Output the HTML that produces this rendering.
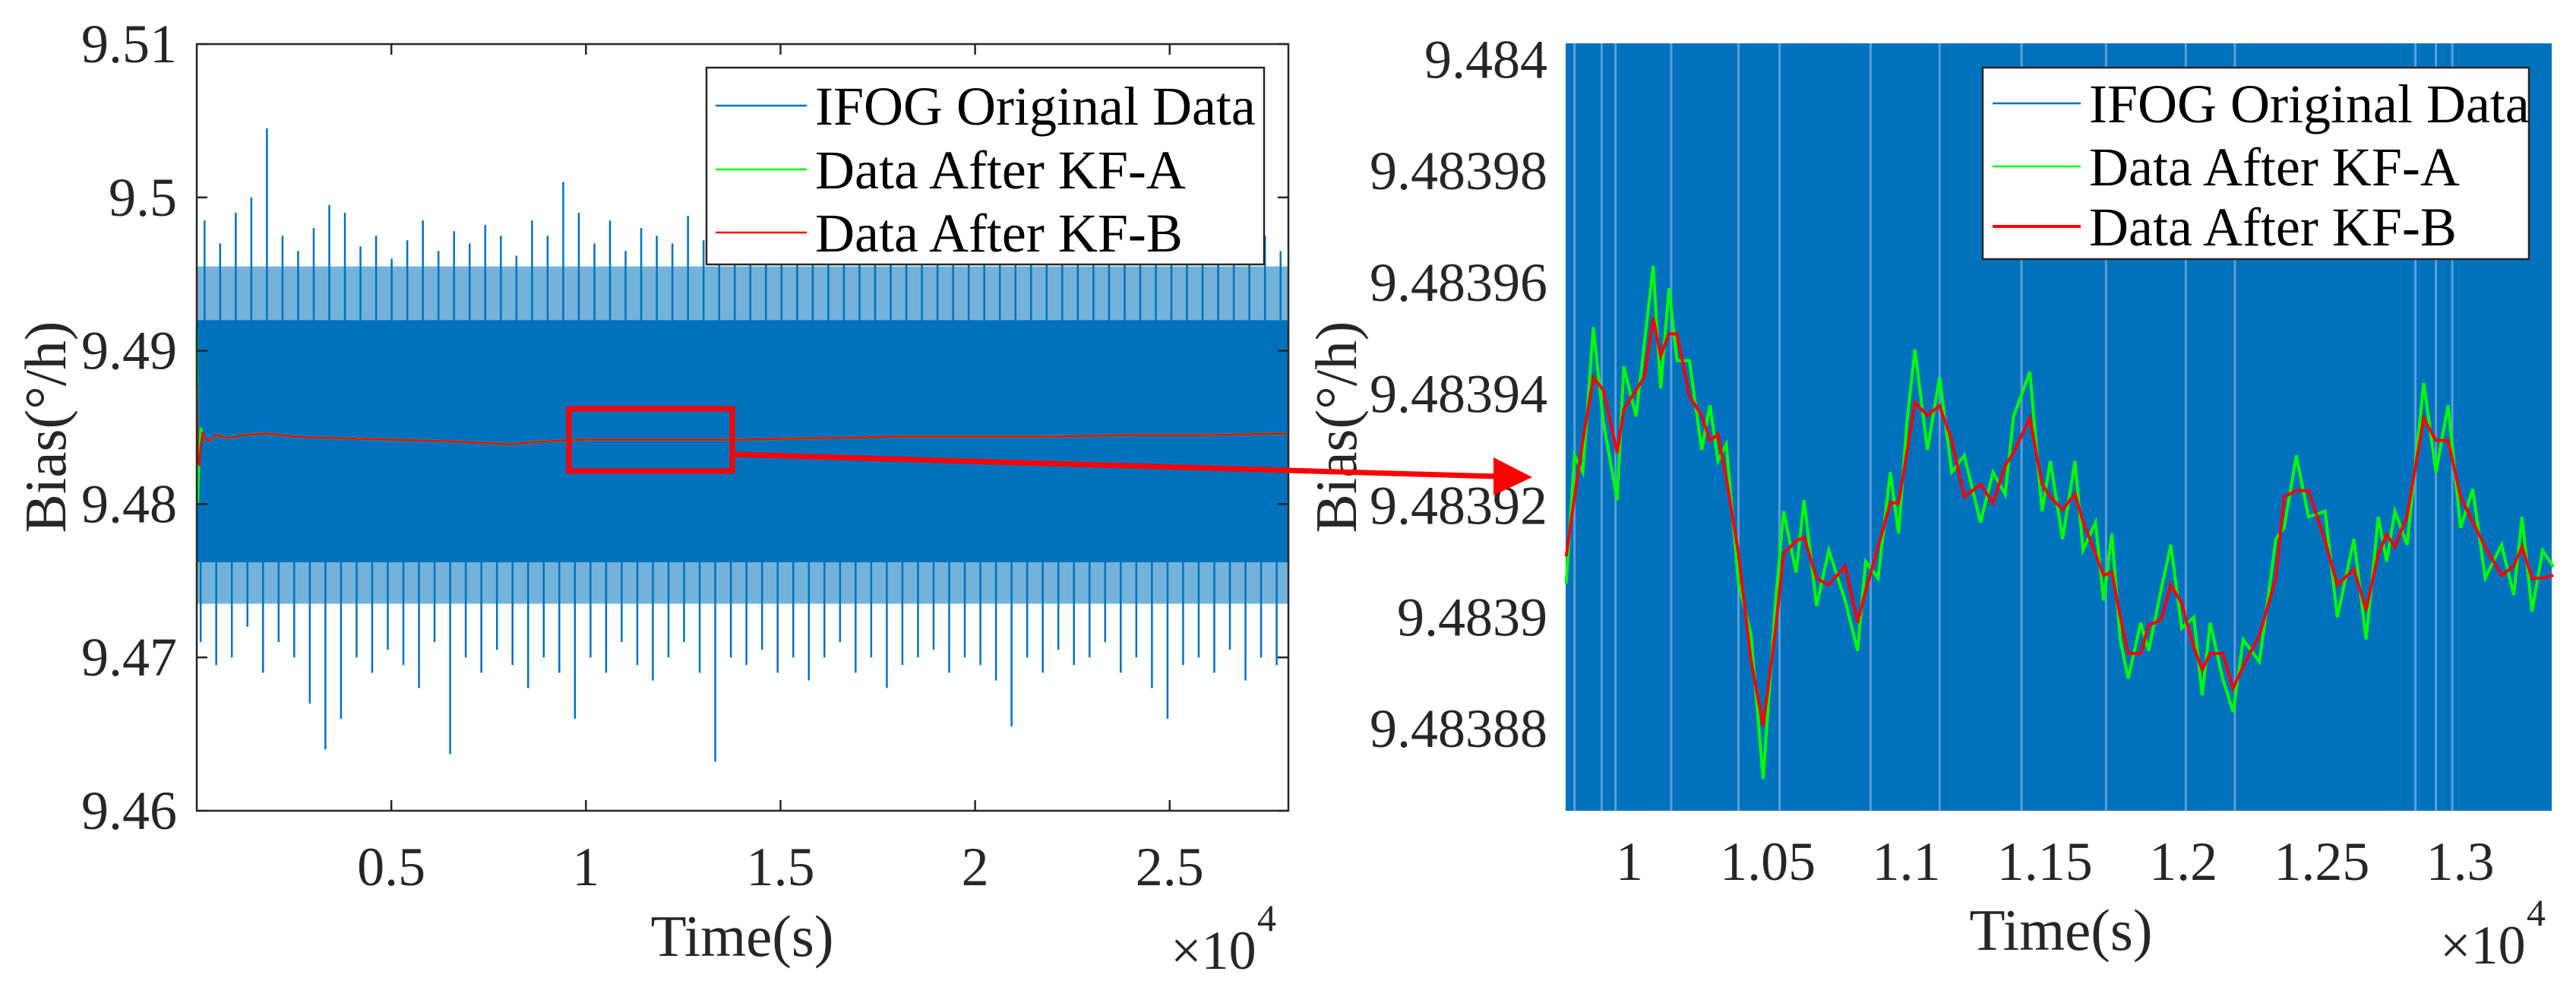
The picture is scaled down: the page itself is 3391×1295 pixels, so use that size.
<!DOCTYPE html>
<html><head><meta charset="utf-8"><style>
html,body{margin:0;padding:0;background:#fff;}
svg{display:block;font-family:"Liberation Serif","Times New Roman",serif;}
</style></head><body>
<svg id="fig" width="3391" height="1295" viewBox="0 0 3391 1295" xmlns="http://www.w3.org/2000/svg">
<rect width="3391" height="1295" fill="#fff"/>
<g id="left"></g>
<g id="right"></g>
<g id="anno"></g>
</svg>
<script>
// ===== Left chart data =====
const leftYTicks = [9.46, 9.47, 9.48, 9.49, 9.5, 9.51];
const leftYTickLabels = ["9.46", "9.47", "9.48", "9.49", "9.5", "9.51"];
const leftXTicks = [5000, 10000, 15000, 20000, 25000];
const leftXTickLabels = ["0.5", "1", "1.5", "2", "2.5"];
const bandLow = 9.4762;
const bandHigh = 9.4920;
const fringeLow = 9.4735;
const fringeHigh = 9.4955;
const spikeUpper = [9.4985,9.4970,9.4990,9.5000,9.5045,9.4975,9.4965,9.4980,9.4995,9.4990,9.4968,9.4975,9.4960,9.4972,9.4985,9.4965,9.4978,9.4970,9.4982,9.4975,9.4962,9.4985,9.4975,9.5010,9.4990,9.4970,9.4985,9.4965,9.4980,9.4975,9.4970,9.4988,9.4972,9.4965,9.4980,9.4975,9.4968,9.4980,9.4990,9.4972,9.4975,9.4985,9.5025,9.4980,9.4970,9.4960,9.5015,9.4975,9.4985,9.4970,9.4990,9.4965,9.4975,9.4980,9.4972,9.4985,9.4975,9.4968,9.4980,9.4970,9.4975,9.4985,9.4972,9.4968,9.4980,9.4975,9.4990,9.4970,9.4975,9.4965];
const spikeLower = [9.4710,9.4695,9.4700,9.4720,9.4690,9.4710,9.4700,9.4670,9.4640,9.4660,9.4700,9.4690,9.4705,9.4695,9.4680,9.4710,9.4637,9.4700,9.4690,9.4705,9.4695,9.4680,9.4700,9.4690,9.4660,9.4700,9.4690,9.4710,9.4695,9.4685,9.4700,9.4710,9.4690,9.4632,9.4700,9.4695,9.4705,9.4690,9.4700,9.4685,9.4700,9.4710,9.4690,9.4700,9.4680,9.4695,9.4700,9.4705,9.4690,9.4700,9.4695,9.4685,9.4655,9.4700,9.4690,9.4705,9.4695,9.4700,9.4710,9.4690,9.4700,9.4680,9.4660,9.4695,9.4700,9.4690,9.4705,9.4685,9.4700,9.4695];
const kfTime = [0,30,60,100,150,200,300,500,800,1200,1800,2500,3500,5000,6500,8000,9000,10000,12000,14000,16000,18000,20000,22000,24000,26000,28000];
const kfAValues = [9.4915,9.4800,9.4828,9.4850,9.4846,9.4843,9.4841,9.4845,9.4843,9.4845,9.4846,9.4844,9.4843,9.4842,9.4841,9.4839,9.4841,9.4842,9.4842,9.4842,9.4843,9.4844,9.4844,9.4844,9.4845,9.4845,9.4846];
const kfBValues = [9.4880,9.4830,9.4825,9.4838,9.4847,9.4843,9.4841,9.4845,9.4843,9.4845,9.4846,9.4844,9.4843,9.4842,9.4841,9.4839,9.4841,9.4842,9.4842,9.4842,9.4843,9.4844,9.4844,9.4844,9.4845,9.4845,9.4846];

// ===== Right chart data =====
const rightYTicks = [9.48388, 9.4839, 9.48392, 9.48394, 9.48396, 9.48398, 9.484];
const rightYTickLabels = ["9.48388", "9.4839", "9.48392", "9.48394", "9.48396", "9.48398", "9.484"];
const rightXTicks = [10000, 10500, 11000, 11500, 12000, 12500, 13000];
const rightXTickLabels = ["1", "1.05", "1.1", "1.15", "1.2", "1.25", "1.3"];
const zoomTime = [9772,9802,9832,9870,9906,9956,9980,10024,10054,10086,10113,10143,10172,10217,10261,10291,10320,10350,10394,10439,10483,10528,10557,10602,10631,10676,10720,10779,10824,10853,10898,10942,10972,11002,11031,11076,11120,11164,11209,11268,11313,11357,11387,11446,11490,11520,11564,11609,11638,11683,11712,11742,11772,11801,11846,11875,11920,11955,11994,12038,12068,12097,12142,12180,12216,12275,12334,12364,12408,12452,12512,12556,12616,12660,12704,12734,12764,12808,12868,12912,12956,13001,13045,13090,13149,13193,13223,13259,13297,13336];
const zoomKFB = [11.09,12.16,13.17,14.30,14.07,12.95,13.73,14.07,14.30,15.37,14.69,15.08,15.08,13.96,13.62,13.17,13.28,12.50,11.14,9.23,8.05,9.80,11.14,11.37,11.43,10.70,10.58,10.92,9.91,10.47,11.26,12.05,12.05,12.95,13.85,13.62,13.79,13.17,12.16,12.38,12.05,12.72,12.95,13.57,12.38,12.16,11.93,12.21,11.71,11.14,10.75,10.81,10.02,9.35,9.35,9.85,9.96,10.58,10.25,9.46,9.06,9.35,9.35,8.73,9.12,9.68,10.70,12.16,12.27,12.27,11.37,10.58,10.86,10.13,11.14,11.48,11.26,11.82,13.57,13.17,13.17,12.16,11.71,11.26,10.75,10.92,11.26,10.70,10.70,10.75];
const zoomKFA = [10.6,12.9,12.6,15.2,13.5,12.1,14.5,13.6,14.9,16.3,14.1,15.9,14.6,14.6,13.0,13.8,12.8,13.1,10.6,9.7,7.1,10.3,11.9,10.8,12.1,10.2,11.2,10.3,9.4,11.0,10.7,12.6,11.5,13.5,14.8,13.0,14.3,12.6,12.9,11.7,12.6,12.2,13.6,14.4,11.9,12.8,11.4,12.8,11.2,11.7,10.3,11.5,9.6,8.9,9.9,9.4,10.5,11.3,9.8,10.0,8.6,9.9,8.9,8.3,9.6,9.2,11.4,11.6,12.9,11.8,11.9,10.0,11.4,9.6,11.8,11.0,11.9,11.3,14.2,12.6,13.8,11.6,12.3,10.7,11.3,10.4,11.8,10.1,11.2,10.9];
const gapTimes = [9802,9900,9950,10151,10394,10542,10871,11120,11416,11721,12009,12186,12838,12912,12971];

const NS = "http://www.w3.org/2000/svg";
function mk(parent, tag, attrs, text){
  const e = document.createElementNS(NS, tag);
  for (const k in attrs) e.setAttribute(k, attrs[k]);
  if (text !== undefined) e.textContent = text;
  parent.appendChild(e);
  return e;
}
const BLUE = "#0072BD";

// ---------- LEFT ----------
const L = {x0:259, x1:1696, y0:58, y1:1067, xmin:0, xmax:28050, ymin:9.46, ymax:9.51};
const lx = v => L.x0 + (v - L.xmin) / (L.xmax - L.xmin) * (L.x1 - L.x0);
const ly = v => L.y1 - (v - L.ymin) / (L.ymax - L.ymin) * (L.y1 - L.y0);
const gl = document.getElementById('left');

const fr1 = mk(gl, 'rect', {x:lx(0), y:ly(fringeHigh), width:L.x1-lx(0), height:ly(bandHigh)-ly(fringeHigh), fill:BLUE, 'fill-opacity':0.55});


const fr2 = mk(gl, 'rect', {x:lx(0), y:ly(bandLow), width:L.x1-lx(0), height:ly(fringeLow)-ly(bandLow), fill:BLUE, 'fill-opacity':0.55});


const band = mk(gl, 'rect', {x:lx(0), y:ly(bandHigh), width:L.x1-lx(0), height:ly(bandLow)-ly(bandHigh), fill:BLUE});


const nb = spikeUpper.length;
for (let i = 0; i < nb; i++) {
  const t = (i + 0.5) / nb * L.xmax;
  const s = mk(gl, 'line', {x1:lx(t), x2:lx(t), y1:ly(spikeUpper[i]), y2:ly(bandHigh)+2, stroke:BLUE, 'stroke-width':2.5});
  
  
  const t2 = (i + 0.25) / nb * L.xmax;
  const s2 = mk(gl, 'line', {x1:lx(t2), x2:lx(t2), y1:ly(spikeLower[i]), y2:ly(bandLow)-2, stroke:BLUE, 'stroke-width':2.5});
  
  
}
const la = mk(gl, 'polyline', {points:kfTime.map((t,i)=>lx(t)+','+ly(kfAValues[i])).join(' '), fill:'none', stroke:'#00FF00', 'stroke-width':3});


const lb = mk(gl, 'polyline', {points:kfTime.map((t,i)=>lx(t)+','+ly(kfBValues[i])).join(' '), fill:'none', stroke:'#FF0000', 'stroke-width':2.5});



const lframe = mk(gl, 'rect', {x:L.x0, y:L.y0, width:L.x1-L.x0, height:L.y1-L.y0, fill:'none', stroke:'#262626', 'stroke-width':2.5});


leftYTicks.forEach((v,i)=>{
  mk(gl,'line',{x1:L.x0,x2:L.x0+14,y1:ly(v),y2:ly(v),stroke:'#262626','stroke-width':2.5});
  mk(gl,'line',{x1:L.x1-14,x2:L.x1,y1:ly(v),y2:ly(v),stroke:'#262626','stroke-width':2.5});
  const t = mk(gl,'text',{x:233,y:ly(v)+24,'font-size':72,'text-anchor':'end',fill:'#262626'}, leftYTickLabels[i]);
  
  
});
leftXTicks.forEach((v,i)=>{
  mk(gl,'line',{x1:lx(v),x2:lx(v),y1:L.y1,y2:L.y1-14,stroke:'#262626','stroke-width':2.5});
  mk(gl,'line',{x1:lx(v),x2:lx(v),y1:L.y0,y2:L.y0+14,stroke:'#262626','stroke-width':2.5});
  const t = mk(gl,'text',{x:lx(v),y:1165,'font-size':72,'text-anchor':'middle',fill:'#262626'}, leftXTickLabels[i]);
  
  
});
</script>
<script>
(function(){
const gl = document.getElementById('left');
function mk(parent, tag, attrs, text){
  const e = document.createElementNS("http://www.w3.org/2000/svg", tag);
  for (const k in attrs) e.setAttribute(k, attrs[k]);
  if (text !== undefined) e.textContent = text;
  parent.appendChild(e);
  return e;
}
let t = mk(gl,'text',{x:977,y:1258,'font-size':77,'text-anchor':'middle',fill:'#262626'},'Time(s)');


t = mk(gl,'text',{x:1541,y:1275,'font-size':72,fill:'#262626'},'×10');


mk(gl,'text',{x:1655,y:1225,'font-size':50,fill:'#262626'},'4');
t = mk(gl,'text',{x:0,y:0,'font-size':77,'text-anchor':'middle',fill:'#262626',transform:'translate(86,562) rotate(-90)'},'Bias(°/h)');


const lg = mk(gl,'g',{});


mk(lg,'rect',{x:930,y:89,width:734,height:259,fill:'#fff',stroke:'#262626','stroke-width':2.5});
const entries = [['IFOG Original Data','#0072BD',139],['Data After KF-A','#00FF00',223],['Data After KF-B','#FF0000',306]];
entries.forEach(e=>{
  const g = mk(lg,'g',{});
  
  
  mk(g,'line',{x1:942,x2:1062,y1:e[2],y2:e[2],stroke:e[1],'stroke-width':2.5});
  mk(g,'text',{x:1073,y:e[2]+25,'font-size':72,fill:'#000'},e[0]);
});

// ---------- RIGHT ----------
const gr = document.getElementById('right');
const R = {x0:2061, x1:3359, y0:57, y1:1067, xmin:9770, xmax:13330, ymin:9.4838653, ymax:9.4840029};
const rx = v => R.x0 + (v - R.xmin) / (R.xmax - R.xmin) * (R.x1 - R.x0);
const ry = v => R.y1 - (v - R.ymin) / (R.ymax - R.ymin) * (R.y1 - R.y0);
const bg = mk(gr,'rect',{x:R.x0,y:R.y0,width:R.x1-R.x0,height:R.y1-R.y0,fill:'#0072BD'});


gapTimes.forEach(g=>{
  const l = mk(gr,'line',{x1:rx(g),x2:rx(g),y1:R.y0,y2:R.y1,stroke:'#5d9fd6','stroke-width':3});
  
  
});
const base = 9.4838, unit = 1e-5;
const ga = mk(gr,'polyline',{points:zoomTime.map((x,i)=>rx(x)+','+ry(base+zoomKFA[i]*unit)).join(' '),fill:'none',stroke:'#00FF00','stroke-width':4});


const gb = mk(gr,'polyline',{points:zoomTime.map((x,i)=>rx(x)+','+ry(base+zoomKFB[i]*unit)).join(' '),fill:'none',stroke:'#FF0000','stroke-width':4});



rightYTicks.forEach((v,i)=>{
  const tt = mk(gr,'text',{x:2037,y:ry(v)+24,'font-size':72,'text-anchor':'end',fill:'#262626'}, rightYTickLabels[i]);
  
  
});
rightXTicks.forEach((v,i)=>{
  const tt = mk(gr,'text',{x:rx(v),y:1158,'font-size':72,'text-anchor':'middle',fill:'#262626'}, rightXTickLabels[i]);
  
  
});
t = mk(gr,'text',{x:2713,y:1250,'font-size':77,'text-anchor':'middle',fill:'#262626'},'Time(s)');


t = mk(gr,'text',{x:3212,y:1268,'font-size':72,fill:'#262626'},'×10');


mk(gr,'text',{x:3326,y:1218,'font-size':50,fill:'#262626'},'4');
t = mk(gr,'text',{x:0,y:0,'font-size':77,'text-anchor':'middle',fill:'#262626',transform:'translate(1785,562) rotate(-90)'},'Bias(°/h)');


const rg = mk(gr,'g',{});


mk(rg,'rect',{x:2610,y:89,width:719,height:252,fill:'#fff',stroke:'#262626','stroke-width':2.5});
const ry2 = [136,219,298];
entries.forEach((e,i)=>{
  const g = mk(rg,'g',{});
  
  
  mk(g,'line',{x1:2623,x2:2739,y1:ry2[i],y2:ry2[i],stroke:e[1],'stroke-width':i==2?4:2.5});
  mk(g,'text',{x:2750,y:ry2[i]+25,'font-size':72,fill:'#000'},e[0]);
});

const ga2 = document.getElementById('anno');
const box = mk(ga2,'rect',{x:749,y:538,width:215,height:82,fill:'none',stroke:'#FF0000','stroke-width':7});


const ln = mk(ga2,'line',{x1:964,y1:598,x2:1970,y2:627,stroke:'#FF0000','stroke-width':7});


const ah = mk(ga2,'polygon',{points:'1966,602 2017,628 1966,652',fill:'#FF0000'});


})();
</script>
</body></html>
